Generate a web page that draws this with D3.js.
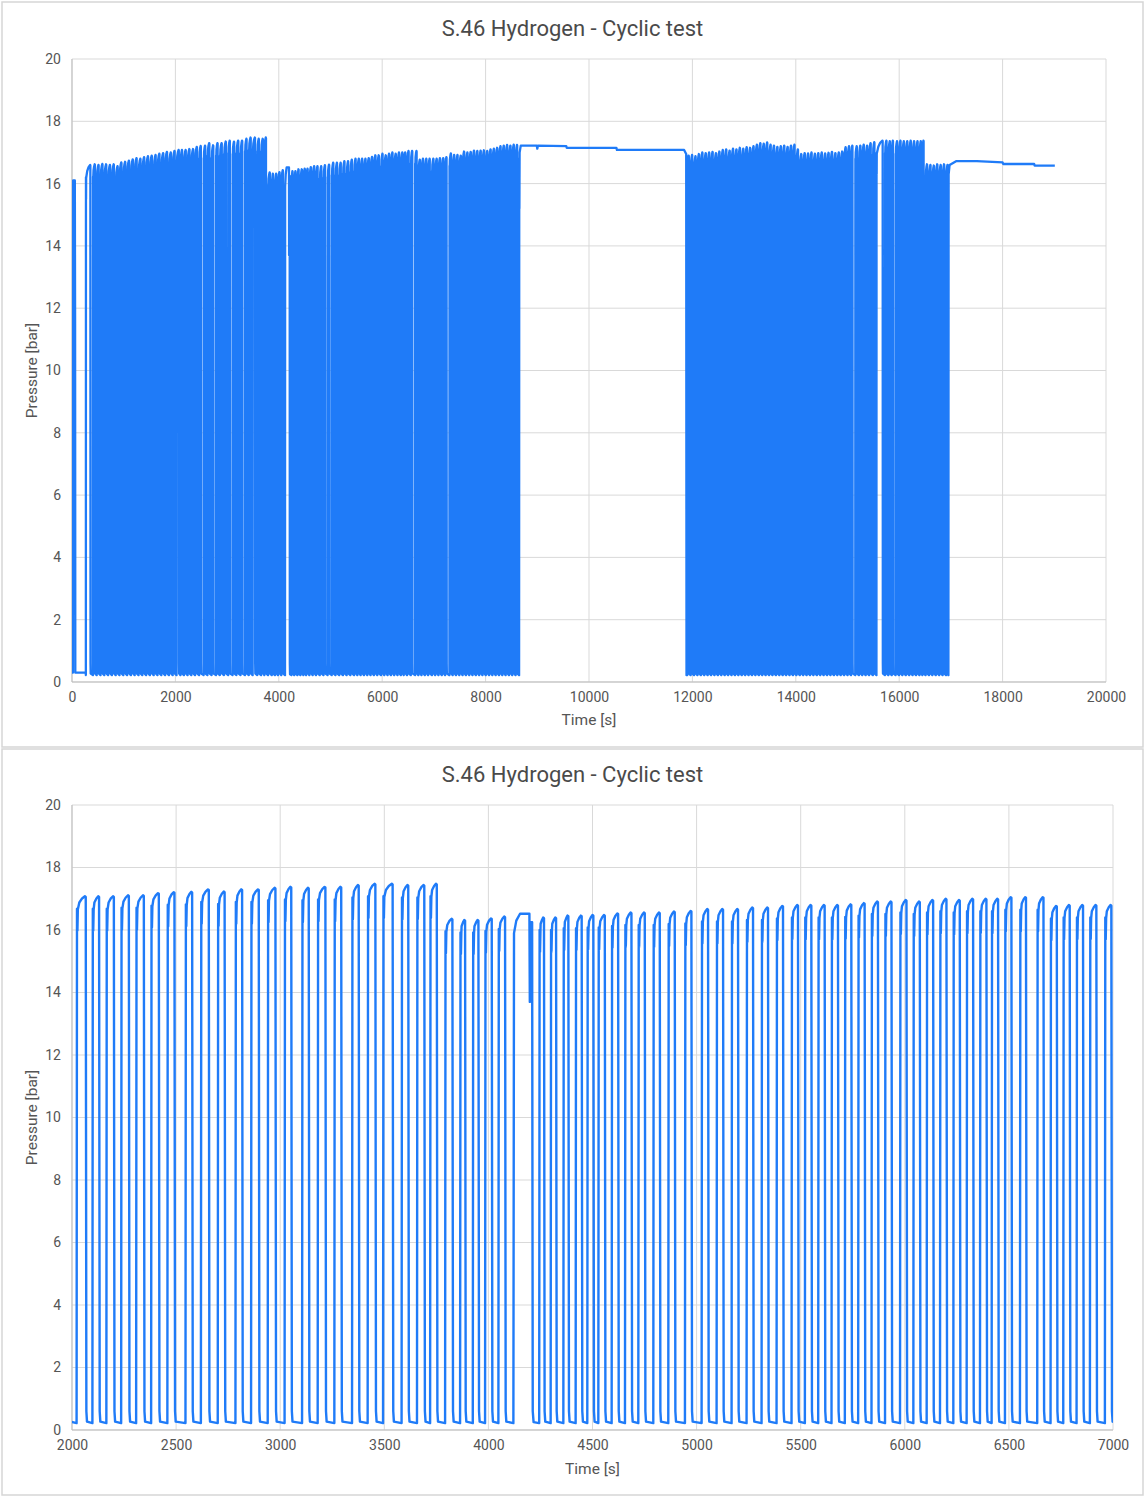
<!DOCTYPE html>
<html><head><meta charset="utf-8">
<script src="https://cdn.jsdelivr.net/npm/d3@7"></script>
<style>
body{margin:0;background:#fff;}
svg{display:block;font-family:Roboto, "Liberation Sans", Arial, sans-serif;}
</style>
</head><body>
<svg id="chart" width="1144" height="1497"></svg>
<script>
// ---------------- DATA ----------------
const chartTitle = "S.46 Hydrogen - Cyclic test";
const xTitle = "Time [s]";
const yTitle = "Pressure [bar]";
const yTicks = [0,2,4,6,8,10,12,14,16,18,20];
const topXTicks = [0,2000,4000,6000,8000,10000,12000,14000,16000,18000,20000];
const zoomXTicks = [2000,2500,3000,3500,4000,4500,5000,5500,6000,6500,7000];

// initial hold before cycling: [time s, pressure bar]
const startHold = [[0,0.3],[18,0.3],[22,16.1],[55,16.1],[60,11.5],[64,0.3],[265,0.3]];

// pressure cycles: rise time, release time, peak pressure
const riseT = [
 268,405,478,552,625,699,772,846,919,993,1066,1140,1213,1287,1360,1434,1507,1581,1654,1728,1801,1875,1948,
 2022,2098,2165,2236,2308,2380,2458,2545,2619,2700,2785,2860,2940,3021,3105,3180,3260,3345,3420,3494,3583,3657,3720,
 3792,3864,3925,3984,4048,
 4244,4299,4360,4419,4475,4528,4592,4656,4720,4792,4864,4944,5024,5096,5168,5240,5312,5384,5456,5520,5584,5648,5712,5776,5840,5905,5977,6041,6105,6169,6233,6297,6361,6417,6481,6553,6636,6700,6761,6825,6889,6961,
 7025,7089,7153,7217,7300,7364,7428,7492,7556,7620,7684,7748,7812,7876,7940,8004,8068,8132,8196,8260,8324,8388,8452,8516,8580,
 11900,11966,12032,12098,12164,12230,12296,12362,12428,12494,12560,12626,12692,12758,12824,12890,12956,13022,13088,13154,13220,13286,13352,13418,13484,13550,13616,13682,13748,13814,13880,13946,14012,14078,14144,14210,14276,14342,14408,14474,14540,14606,14672,14738,14804,14870,14936,15002,15068,15150,15220,15286,15352,15418,15490,15560,15724,15790,15856,15930,15996,16062,16128,16194,16260,16326,16392,16448,16510,16576,16642,16708,16774,16840,16906
];
const fallT = [
 355,443,516,590,663,737,810,884,957,1031,1104,1178,1251,1325,1398,1472,1545,1619,1692,1766,1839,1913,1986,
 2066,2130,2201,2273,2345,2417,2492,2577,2657,2733,2817,2897,2977,3053,3137,3217,3293,3377,3457,3540,3615,3692,3752,
 3827,3888,3952,4016,4080,
 4267,4325,4384,4448,4504,4559,4623,4687,4751,4823,4895,4975,5055,5127,5199,5271,5343,5415,5487,5551,5615,5679,5743,5807,5871,5936,6008,6072,6136,6200,6264,6328,6392,6448,6512,6582,6666,6730,6792,6856,6920,6992,
 7056,7120,7184,7245,7331,7395,7459,7523,7587,7651,7715,7779,7843,7907,7971,8035,8099,8163,8227,8291,8355,8419,8483,8547,8611,
 11931,11997,12063,12129,12195,12261,12327,12393,12459,12525,12591,12657,12723,12789,12855,12921,12987,13053,13119,13185,13251,13317,13383,13449,13515,13581,13647,13713,13779,13845,13911,13977,14043,14109,14175,14241,14307,14373,14439,14505,14571,14637,14703,14769,14835,14901,14967,15033,15096,15181,15251,15317,15383,15449,15521,15680,15755,15821,15880,15961,16027,16093,16159,16225,16291,16357,16420,16472,16541,16607,16673,16739,16805,16871,16937
];
const peakP = [
 16.60,16.62,16.60,16.63,16.62,16.60,16.62,16.56,16.68,16.70,16.74,16.78,16.82,16.80,16.85,16.88,16.90,16.92,16.96,16.98,17.02,17.00,17.05,
 17.08,17.08,17.08,17.11,17.11,17.18,17.21,17.22,17.30,17.23,17.30,17.30,17.35,17.38,17.35,17.38,17.38,17.44,17.48,17.48,17.44,17.44,17.48,
 16.36,16.32,16.32,16.37,16.43,
 16.40,16.40,16.46,16.46,16.48,16.48,16.53,16.56,16.56,16.56,16.59,16.61,16.67,16.67,16.67,16.72,16.72,16.77,16.80,16.80,16.80,16.80,16.82,16.86,16.91,16.91,16.96,16.91,16.96,17.00,16.96,17.00,17.00,17.00,17.05,17.05,17.05,16.77,16.80,16.80,16.80,16.80,
 16.80,16.82,16.82,16.85,16.97,16.92,16.92,16.90,17.03,17.00,17.02,17.06,17.05,17.06,17.07,17.05,17.10,17.12,17.15,17.20,17.22,17.24,17.22,17.25,17.24,
 16.90,16.92,16.88,16.95,17.00,16.98,17.00,17.02,16.98,17.03,17.08,17.10,17.06,17.12,17.10,17.15,17.12,17.17,17.15,17.20,17.25,17.30,17.28,17.32,17.25,17.22,17.18,17.20,17.22,17.18,17.22,17.25,17.10,16.95,16.98,16.97,17.00,16.96,16.98,17.00,16.97,16.99,17.02,16.98,17.00,17.03,17.17,17.20,17.22,17.20,17.22,17.25,17.22,17.30,17.33,17.38,17.38,17.36,17.38,17.36,17.38,17.36,17.36,17.38,17.36,17.36,17.36,17.38,16.62,16.60,16.58,16.62,16.60,16.62,16.60
];

// irregular cycle with a flat hold and a short dip
const specialCycle = [[4120,0.22],[4123,15.9],[4134,16.3],[4152,16.52],[4197,16.52],[4199,13.7],[4203,16.25],[4210,16.25],[4213,0.6],[4217,0.25]];
// long holds
const holdA = [[8648,0.22],[8651,16.8],[8654,15.2],[8658,17.0],[8680,17.22],[8990,17.22],[9000,17.12],[9012,17.22],[9560,17.2],[9570,17.15],[10530,17.15],[10540,17.08],[11840,17.08],[11880,16.95],[11886,0.22]];
const holdB = [[16952,0.22],[16956,16.3],[16975,16.6],[17100,16.72],[17500,16.72],[18000,16.68],[18010,16.63],[18610,16.63],[18620,16.58],[19010,16.58]];

// ---------------- BUILD SERIES ----------------
const LOW = 0.22;
function buildSeries(){
  const events = [startHold, specialCycle, holdA, holdB];
  const n = Math.min(riseT.length, fallT.length, peakP.length);
  for (let i=0;i<n;i++){
    const r=riseT[i], f=fallT[i], P=peakP[i], H=f-r;
    events.push([[r,LOW],[r+2,P-0.4],[r+4,P-1.1],[r+6,P-0.42],[r+0.3*H,P-0.2],[r+0.6*H,P-0.07],[f-4,P],[f,P-0.02],[f+3,0.6],[f+6,LOW+0.05]]);
  }
  events.sort((a,b)=>a[0][0]-b[0][0]);
  return events.flat();
}
const series = buildSeries();

// ---------------- DRAW ----------------
const svg = d3.select("#chart");
const BLUE = "#1f7bf8";
const GRID = "#d9d9d9";
const TXT = "#555";

function panel(cfg){
  const g = svg.append("g");
  g.append("rect").attr("x",cfg.px).attr("y",cfg.py).attr("width",cfg.pw).attr("height",cfg.ph)
    .attr("fill","#fff").attr("stroke","#d6d6d6").attr("stroke-width",1.5);
  const x = d3.scaleLinear().domain(cfg.xDomain).range([cfg.left,cfg.right]);
  const y = d3.scaleLinear().domain([0,20]).range([cfg.bottom,cfg.top]);
  g.append("g").selectAll("line").data(yTicks).join("line")
    .attr("x1",cfg.left).attr("x2",cfg.right).attr("y1",d=>y(d)).attr("y2",d=>y(d))
    .attr("stroke",GRID).attr("stroke-width",1);
  g.append("g").selectAll("line").data(cfg.xTicks).join("line")
    .attr("x1",d=>x(d)).attr("x2",d=>x(d)).attr("y1",cfg.top).attr("y2",cfg.bottom)
    .attr("stroke",GRID).attr("stroke-width",1);
  g.append("line").attr("x1",cfg.left).attr("x2",cfg.left).attr("y1",cfg.top).attr("y2",cfg.bottom).attr("stroke","#bdbdbd");
  g.append("line").attr("x1",cfg.left).attr("x2",cfg.right).attr("y1",cfg.bottom).attr("y2",cfg.bottom).attr("stroke","#bdbdbd");
  const id = "clip"+cfg.py;
  svg.append("defs").append("clipPath").attr("id",id).append("rect")
    .attr("x",cfg.left).attr("y",cfg.top-5).attr("width",cfg.right-cfg.left).attr("height",cfg.bottom-cfg.top+6);
  const data = series.filter(d=>d[0]>=cfg.xDomain[0]-200 && d[0]<=cfg.xDomain[1]+200);
  g.append("path").datum(data).attr("clip-path",`url(#${id})`)
    .attr("fill","none").attr("stroke",BLUE).attr("stroke-width",cfg.lw).attr("stroke-linejoin","round")
    .attr("d",d3.line().x(d=>x(d[0])).y(d=>y(d[1])));
  const xa = g.append("g").attr("transform",`translate(0,${cfg.bottom})`)
    .call(d3.axisBottom(x).tickValues(cfg.xTicks).tickSize(0).tickPadding(10).tickFormat(d3.format("d")));
  xa.select(".domain").remove();
  xa.selectAll("text").attr("fill",TXT).attr("font-size",14).attr("font-family","Roboto, Arial, sans-serif");
  const ya = g.append("g").attr("transform",`translate(${cfg.left},0)`)
    .call(d3.axisLeft(y).tickValues(yTicks).tickSize(0).tickPadding(11).tickFormat(d3.format("d")));
  ya.select(".domain").remove();
  ya.selectAll("text").attr("fill",TXT).attr("font-size",14).attr("font-family","Roboto, Arial, sans-serif");
  g.append("text").attr("x",cfg.px+cfg.pw/2).attr("y",cfg.titleY).attr("text-anchor","middle")
    .attr("dominant-baseline","central").attr("font-size",22).attr("fill","#4a4a4a").text(chartTitle);
  g.append("text").attr("x",(cfg.left+cfg.right)/2).attr("y",cfg.xTitleY).attr("text-anchor","middle")
    .attr("dominant-baseline","central").attr("font-size",15.5).attr("fill",TXT).text(xTitle);
  g.append("text").attr("transform",`translate(32,${(cfg.top+cfg.bottom)/2}) rotate(-90)`)
    .attr("text-anchor","middle").attr("dominant-baseline","central").attr("font-size",15.5).attr("fill",TXT).text(yTitle);
}

panel({px:2,py:2,pw:1141,ph:745,left:72,right:1106,top:59,bottom:682,xDomain:[0,20000],xTicks:topXTicks,
  titleY:28,xTitleY:720,lw:2.3});
panel({px:2,py:749,pw:1141,ph:746,left:72,right:1113,top:805,bottom:1430,xDomain:[2000,7000],xTicks:zoomXTicks,
  titleY:774,xTitleY:1469,lw:2.4});
</script>
</body></html>
